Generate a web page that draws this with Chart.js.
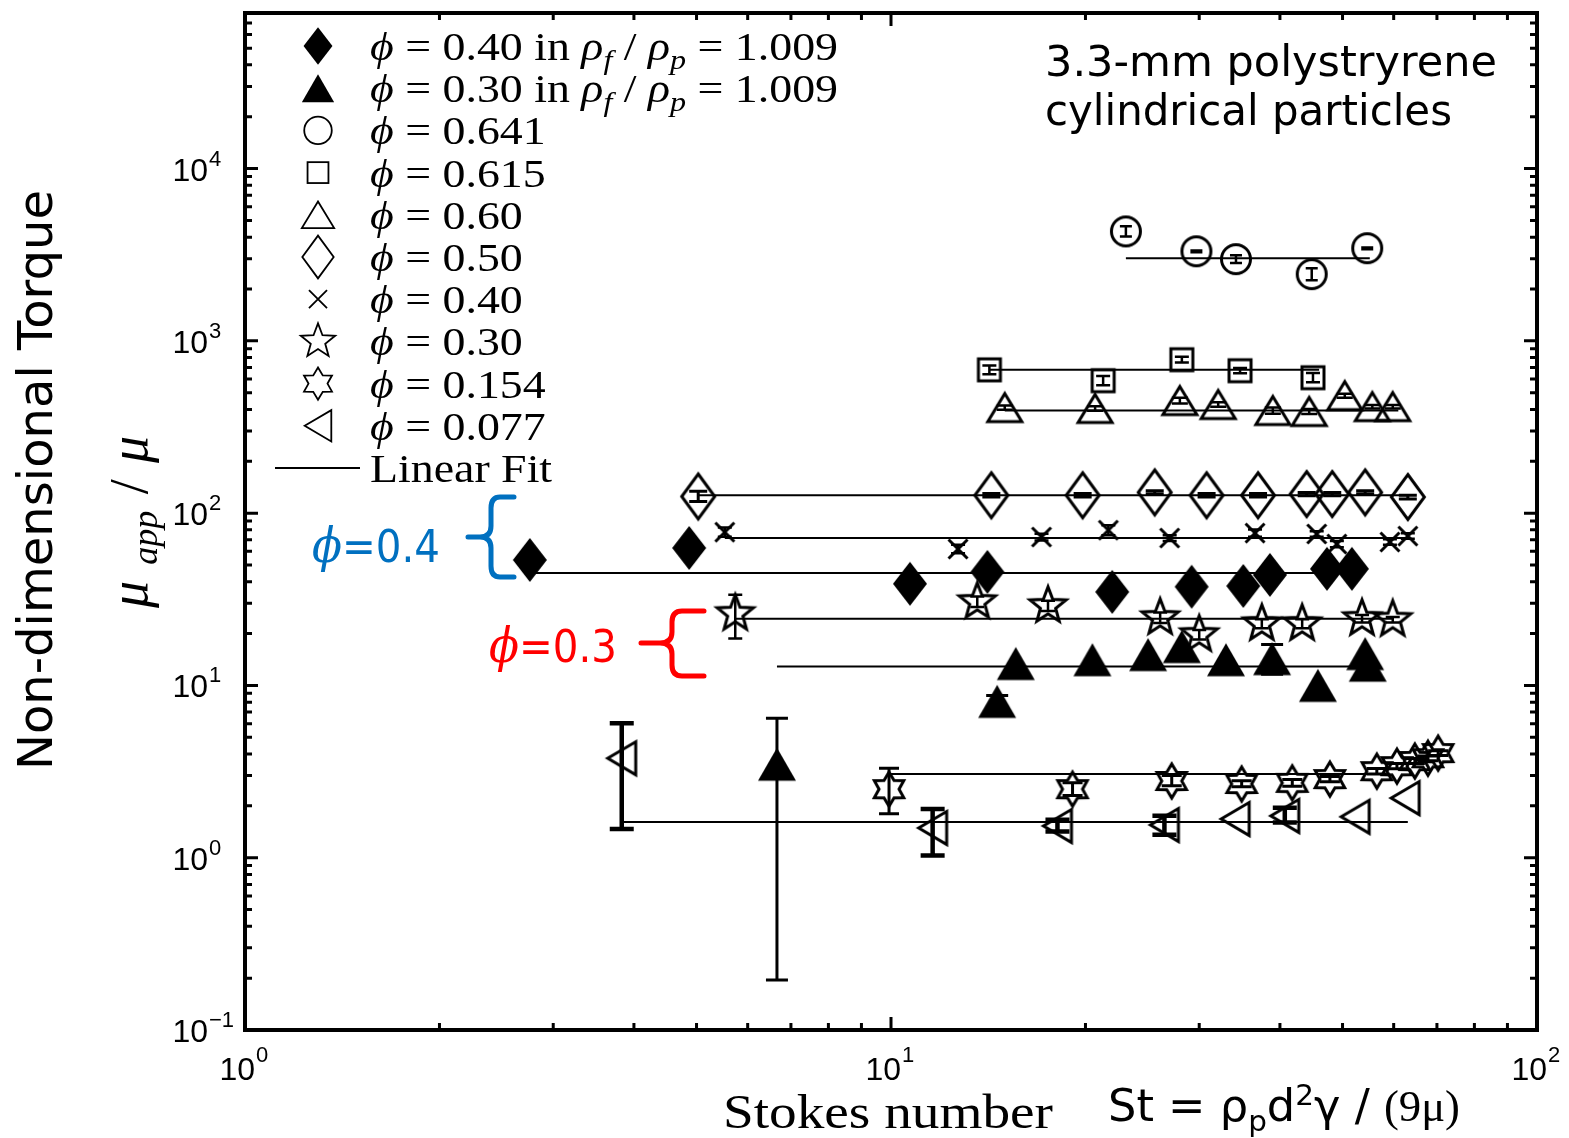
<!DOCTYPE html>
<html>
<head>
<meta charset="utf-8">
<title>Non-dimensional torque vs Stokes number</title>
<script src="https://cdn.jsdelivr.net/npm/chart.js@4.4.0/dist/chart.umd.min.js"></script>
<style>
  html, body { margin: 0; padding: 0; background: #fff; }
  #wrap { width: 1569px; height: 1138px; }
</style>
</head>
<body>
<div id="wrap"><canvas id="myChart" width="1569" height="1138"></canvas></div>
<script>
'use strict';

// Axis limits

let xMin = 1;
let xMax = 100;
let yMin = 0.1;
let yMax = 80000;
let xExponents = [0, 1, 2];
let yExponents = [-1, 0, 1, 2, 3, 4];

// Data

// phi = 0.40 in rho_f/rho_p = 1.009  (filled diamond)
let fdX = [2.76, 4.87, 10.7, 14.1, 22.0, 29.2, 35.1, 38.6, 47.3, 51.7];
let fdY = [53.5, 62.8, 38.9, 45.6, 34.9, 37.4, 37.8, 43.8, 47.5, 47.5];

// phi = 0.30 in rho_f/rho_p = 1.009  (filled triangle)
let ftX = [6.66, 14.6, 15.6, 20.5, 25.0, 28.2, 33.0, 38.9, 45.8, 54.2, 54.7];
let ftY = [3.49, 8.08, 13.4, 14.1, 15.1, 16.8, 14.1, 14.3, 10.0, 15.3, 13.1];
let ftLo = [0.195, 7.45, null, null, null, null, null, 11.6, null, null, null];
let ftHi = [6.45, 8.75, null, null, null, null, null, 17.3, null, null, null];

// phi = 0.641  (circle)
let circX = [23.1, 29.7, 34.2, 44.8, 54.6];
let circY = [4320, 3310, 2980, 2440, 3450];
let circLo = [4040, 3270, 2830, 2250, 3400];
let circHi = [4620, 3350, 3140, 2640, 3480];

// phi = 0.615  (square)
let sqX = [14.2, 21.3, 28.2, 34.7, 45.0];
let sqY = [679, 587, 777, 671, 611];
let sqLo = [640, 552, 748, 648, 575];
let sqHi = [720, 625, 808, 696, 650];

// phi = 0.60  (open triangle)
let triX = [15.0, 20.7, 28.0, 32.1, 39.0, 44.4, 50.4, 55.6, 59.8];
let triY = [410, 405, 450, 427, 394, 389, 481, 415, 415];
let triLo = [398, 393, 433, 414, 378, 376, 468, 405, 405];
let triHi = [422, 417, 467, 440, 410, 402, 494, 425, 425];

// phi = 0.50  (open diamond)
let diaX = [5.03, 14.3, 19.8, 25.6, 30.8, 37.0, 44.0, 48.2, 54.2, 63.1];
let diaY = [125, 127, 127, 132, 127, 127, 129, 129, 132, 124];
let diaLo = [117, 124, 124, 129, 124, 124, 126, 126, 129, 121];
let diaHi = [134, 130, 130, 135, 130, 130, 132, 132, 135, 127];

// phi = 0.40  (x)
let xsX = [5.53, 12.7, 17.1, 21.7, 27.0, 36.6, 45.6, 49.0, 59.2, 63.1];
let xsY = [77.6, 61.9, 72.7, 79.7, 71.7, 76.6, 75.7, 66.2, 68.0, 73.6];
let xsLo = [73.0, 58.5, 69.5, 74.5, 69.0, 73.0, 73.0, 63.5, 65.5, 71.0];
let xsHi = [82.5, 65.5, 76.0, 85.0, 74.5, 80.5, 78.5, 69.0, 70.5, 76.5];

// phi = 0.30  (five-point star)
let st5X = [5.74, 13.6, 17.5, 26.1, 30.0, 37.5, 43.3, 53.6, 59.8];
let st5Y = [26.1, 30.6, 29.0, 24.7, 19.7, 22.8, 22.8, 24.4, 24.1];
let st5Lo = [18.7, 28.5, 27.0, 23.0, 18.5, 21.5, 21.5, 23.2, 23.2];
let st5Hi = [33.6, 32.8, 31.0, 26.5, 21.0, 24.2, 24.2, 25.6, 25.0];

// phi = 0.154  (six-point star)
let st6X = [9.93, 19.1, 27.2, 34.9, 41.8, 47.8, 56.5, 60.7, 64.7, 67.8, 70.3];
let st6Y = [2.50, 2.50, 2.79, 2.68, 2.72, 2.86, 3.18, 3.40, 3.64, 3.78, 4.05];
let st6Lo = [1.80, 2.30, 2.62, 2.58, 2.60, 2.76, 3.06, 3.28, 3.52, 3.66, 3.92];
let st6Hi = [3.31, 2.72, 3.00, 2.80, 2.84, 2.96, 3.30, 3.52, 3.76, 3.90, 4.18];

// phi = 0.077  (left triangle)
let ltX = [3.83, 11.6, 18.1, 26.5, 34.1, 40.7, 52.3, 62.5];
let ltY = [3.78, 1.49, 1.53, 1.55, 1.68, 1.75, 1.73, 2.22];
let ltLo = [1.47, 1.03, 1.42, 1.36, null, 1.60, null, null];
let ltHi = [6.03, 1.92, 1.66, 1.75, null, 1.95, null, null];

// Linear fits (order: circle, square, triangle, diamond, x, filled diamond,
// star, filled triangle, hexagram, left triangle)
let fitStart = [23.1, 14.2, 15.0, 5.03, 5.53, 2.76, 5.74, 6.66, 9.93, 3.83];
let fitEnd = [55.1, 46.0, 61.0, 63.1, 63.1, 46.1, 60.0, 53.2, 56.1, 63.1];
let fitLevel = [3020, 679, 394, 127, 71.7, 45.0, 24.4, 12.9, 3.06, 1.61];

// Legend labels

let legendLabels = [
  [['ϕ', 'i'], [' = 0.40 in ', 'r'], ['ρ', 'i'], ['f', 's', 9], [' / ', 'r'], ['ρ', 'i'], ['p', 's', 9], [' = 1.009', 'r']],
  [['ϕ', 'i'], [' = 0.30 in ', 'r'], ['ρ', 'i'], ['f', 's', 9], [' / ', 'r'], ['ρ', 'i'], ['p', 's', 9], [' = 1.009', 'r']],
  [['ϕ', 'i'], [' = 0.641', 'r']],
  [['ϕ', 'i'], [' = 0.615', 'r']],
  [['ϕ', 'i'], [' = 0.60', 'r']],
  [['ϕ', 'i'], [' = 0.50', 'r']],
  [['ϕ', 'i'], [' = 0.40', 'r']],
  [['ϕ', 'i'], [' = 0.30', 'r']],
  [['ϕ', 'i'], [' = 0.154', 'r']],
  [['ϕ', 'i'], [' = 0.077', 'r']],
  [['Linear Fit', 'r']]
];
let legendShapes = ['fdiamond', 'ftri', 'circle', 'square', 'tri', 'diamond', 'cross', 'star5', 'star6', 'ltri', 'line'];

// Marker shapes

function diamondPath(g, cx, cy, w, h) {
  g.beginPath();
  g.moveTo(cx, cy - h / 2);
  g.lineTo(cx + w / 2, cy);
  g.lineTo(cx, cy + h / 2);
  g.lineTo(cx - w / 2, cy);
  g.closePath();
}

function triUpPath(g, cx, cy, w, h) {
  g.beginPath();
  g.moveTo(cx, cy - h / 2);
  g.lineTo(cx + w / 2, cy + h / 2);
  g.lineTo(cx - w / 2, cy + h / 2);
  g.closePath();
}

function triLeftPath(g, cx, cy, w, h) {
  g.beginPath();
  g.moveTo(cx - w / 2, cy);
  g.lineTo(cx + w / 2, cy - h / 2);
  g.lineTo(cx + w / 2, cy + h / 2);
  g.closePath();
}

function starPath(g, cx, cy, n, r1, r2) {
  g.beginPath();
  for (let i = 0; i < 2 * n; i++) {
    let a = -Math.PI / 2 + i * Math.PI / n;
    let r = i % 2 ? r2 : r1;
    if (i === 0) g.moveTo(cx + r * Math.cos(a), cy + r * Math.sin(a));
    else g.lineTo(cx + r * Math.cos(a), cy + r * Math.sin(a));
  }
  g.closePath();
}

function crossPath(g, cx, cy, s) {
  g.beginPath();
  g.moveTo(cx - s, cy - s);
  g.lineTo(cx + s, cy + s);
  g.moveTo(cx + s, cy - s);
  g.lineTo(cx - s, cy + s);
}

// draws one shape; big = plot marker, otherwise legend marker
function drawShape(g, name, cx, cy, big) {
  g.lineWidth = big ? 3 : 1.8;
  g.lineJoin = 'miter';
  g.strokeStyle = '#000';
  g.fillStyle = '#000';
  let k = big ? 1 : 0.85;
  let ko = big ? 1 : 0.95;
  if (name === 'fdiamond') { diamondPath(g, cx, cy, 34 * k, 44 * k); g.fill(); }
  if (name === 'ftri') { triUpPath(g, cx, cy, 38 * k, 33 * k); g.fill(); }
  if (name === 'circle') { g.beginPath(); g.arc(cx, cy, 14.5 * ko, 0, 2 * Math.PI); g.stroke(); }
  if (name === 'square') { g.strokeRect(cx - 11 * ko, cy - 11 * ko, 22 * ko, 22 * ko); }
  if (name === 'tri') { triUpPath(g, cx, cy, 34 * ko, 28 * ko); g.stroke(); }
  if (name === 'diamond') { diamondPath(g, cx, cy, 33 * ko, 45 * ko); g.stroke(); }
  if (name === 'cross') { crossPath(g, cx, cy, 9.5 * ko); g.stroke(); }
  if (name === 'star5') { starPath(g, cx, cy, 5, 19 * ko, 8 * ko); g.stroke(); }
  if (name === 'star6') { starPath(g, cx, cy, 6, 17 * ko, 10 * ko); g.stroke(); }
  if (name === 'ltri') { triLeftPath(g, cx, cy, 28 * ko, 33 * ko); g.stroke(); }
}

function makeMarker(name) {
  let c = document.createElement('canvas');
  c.width = 60;
  c.height = 60;
  drawShape(c.getContext('2d'), name, 30, 30, true);
  return c;
}

// Datasets

function pointsOf(xs, ys) {
  return xs.map((v, i) => ({ x: v, y: ys[i] }));
}

function series(label, xs, ys, shape, lo, hi, errWidth, errCap) {
  return {
    label: label,
    data: pointsOf(xs, ys),
    pointStyle: makeMarker(shape),
    pointRadius: 12,
    pointHoverRadius: 12,
    showLine: false,
    order: 0,
    errLo: lo,
    errHi: hi,
    errWidth: errWidth,
    errCap: errCap
  };
}

let datasets = [
  series('phi = 0.40 in 1.009', fdX, fdY, 'fdiamond'),
  series('phi = 0.30 in 1.009', ftX, ftY, 'ftri', ftLo, ftHi, 3, 22),
  series('phi = 0.641', circX, circY, 'circle', circLo, circHi, 2.5, 12),
  series('phi = 0.615', sqX, sqY, 'square', sqLo, sqHi, 2.5, 14),
  series('phi = 0.60', triX, triY, 'tri', triLo, triHi, 2.5, 16),
  series('phi = 0.50', diaX, diaY, 'diamond', diaLo, diaHi, 3, 18),
  series('phi = 0.40', xsX, xsY, 'cross', xsLo, xsHi, 2.5, 14),
  series('phi = 0.30', st5X, st5Y, 'star5', st5Lo, st5Hi, 2.5, 14),
  series('phi = 0.154', st6X, st6Y, 'star6', st6Lo, st6Hi, 3, 20),
  series('phi = 0.077', ltX, ltY, 'ltri', ltLo, ltHi, 4.5, 24)
];

for (let i = 0; i < fitLevel.length; i++) {
  datasets.push({
    label: 'Linear Fit ' + i,
    type: 'line',
    data: [{ x: fitStart[i], y: fitLevel[i] }, { x: fitEnd[i], y: fitLevel[i] }],
    borderColor: '#000',
    borderWidth: 2,
    pointRadius: 0,
    showLine: true,
    fill: false,
    order: 1
  });
}

// Plugins

const errorBarPlugin = {
  id: 'errorBars',
  afterDatasetsDraw(chart) {
    const { ctx, scales } = chart;
    chart.data.datasets.forEach((ds) => {
      if (!ds.errLo) return;
      ctx.save();
      ctx.strokeStyle = '#000';
      ctx.lineWidth = ds.errWidth;
      ds.data.forEach((p, j) => {
        let lo = ds.errLo[j];
        let hi = ds.errHi[j];
        if (lo == null || hi == null) return;
        let px = scales.x.getPixelForValue(p.x);
        let yl = scales.y.getPixelForValue(lo);
        let yh = scales.y.getPixelForValue(hi);
        let c = ds.errCap / 2;
        ctx.beginPath();
        ctx.moveTo(px, yl); ctx.lineTo(px, yh);
        ctx.moveTo(px - c, yl); ctx.lineTo(px + c, yl);
        ctx.moveTo(px - c, yh); ctx.lineTo(px + c, yh);
        ctx.stroke();
      });
      ctx.restore();
    });
  }
};

function textWidth(ctx, segs, fonts) {
  let w = 0;
  for (const s of segs) {
    ctx.font = fonts[s[1]];
    w += ctx.measureText(s[0]).width;
  }
  return w;
}

function drawRich(ctx, segs, fonts, x, y, targetW, align) {
  let w = textWidth(ctx, segs, fonts);
  let k = targetW ? targetW / w : 1;
  ctx.save();
  ctx.textAlign = 'left';
  ctx.textBaseline = 'alphabetic';
  ctx.translate(x, y);
  ctx.scale(k, 1);
  let cx = align === 'center' ? -w / 2 : 0;
  for (const s of segs) {
    ctx.font = fonts[s[1]];
    ctx.fillText(s[0], cx, s[2] || 0);
    cx += ctx.measureText(s[0]).width;
  }
  ctx.restore();
}

// like drawRich, but widens by adding gaps between segments instead of stretching
function drawSpread(ctx, segs, fonts, x, y, targetW) {
  let w = textWidth(ctx, segs, fonts);
  let gap = Math.max(0, (targetW - w) / (segs.length - 1));
  ctx.save();
  ctx.textAlign = 'left';
  ctx.textBaseline = 'alphabetic';
  ctx.translate(x, y);
  let cx = -(w + gap * (segs.length - 1)) / 2;
  for (const s of segs) {
    ctx.font = fonts[s[1]];
    ctx.fillText(s[0], cx, s[2] || 0);
    cx += ctx.measureText(s[0]).width + gap;
  }
  ctx.restore();
}

const serifFonts = {
  r: '40px "Liberation Serif", "DejaVu Serif", serif',
  i: 'italic 40px "Liberation Serif", "DejaVu Serif", serif',
  s: 'italic 28px "Liberation Serif", "DejaVu Serif", serif'
};

const axesPlugin = {
  id: 'axesBox',
  afterDraw(chart) {
    const { ctx, chartArea: a, scales } = chart;
    const sx = scales.x;
    const sy = scales.y;
    ctx.save();
    ctx.strokeStyle = '#000';
    ctx.lineCap = 'butt';

    // inward ticks on all four sides
    ctx.lineWidth = 3;
    ctx.beginPath();
    for (let d = 0; d < 2; d++) {
      for (let m = 1; m <= 9; m++) {
        let v = m * Math.pow(10, d);
        if (v <= xMin || v >= xMax) continue;
        let px = sx.getPixelForValue(v);
        let len = m === 1 ? 13 : 7;
        ctx.moveTo(px, a.bottom); ctx.lineTo(px, a.bottom - len);
        ctx.moveTo(px, a.top); ctx.lineTo(px, a.top + len);
      }
    }
    for (let d = -1; d < 5; d++) {
      for (let m = 1; m <= 9; m++) {
        let v = m * Math.pow(10, d);
        if (v <= yMin || v >= yMax) continue;
        let py = sy.getPixelForValue(v);
        let len = m === 1 ? 13 : 7;
        ctx.moveTo(a.left, py); ctx.lineTo(a.left + len, py);
        ctx.moveTo(a.right, py); ctx.lineTo(a.right - len, py);
      }
    }
    ctx.stroke();

    ctx.lineWidth = 4;
    ctx.strokeRect(a.left, a.top, a.right - a.left, a.bottom - a.top);

    // tick labels
    ctx.fillStyle = '#000';
    ctx.textBaseline = 'alphabetic';
    for (const e of yExponents) {
      let py = sy.getPixelForValue(Math.pow(10, e));
      ctx.font = '32px "Liberation Sans", Arial, sans-serif';
      ctx.textAlign = 'right';
      ctx.fillText('10', 208, py + 12);
      ctx.font = '22px "Liberation Sans", Arial, sans-serif';
      ctx.textAlign = 'left';
      ctx.fillText(e < 0 ? '\u2212' + (-e) : String(e), 209, py - 3);
    }
    for (const e of xExponents) {
      let px = sx.getPixelForValue(Math.pow(10, e));
      ctx.font = '32px "Liberation Sans", Arial, sans-serif';
      ctx.textAlign = 'right';
      ctx.fillText('10', px + 10, 1080);
      ctx.font = '22px "Liberation Sans", Arial, sans-serif';
      ctx.textAlign = 'left';
      ctx.fillText(String(e), px + 11, 1062);
    }
    ctx.restore();
  }
};

const annotationPlugin = {
  id: 'annotations',
  afterDraw(chart) {
    const ctx = chart.ctx;
    ctx.save();
    ctx.fillStyle = '#000';

    // legend
    let k = 468 / textWidth(ctx, legendLabels[0], serifFonts);
    legendLabels.forEach((segs, i) => {
      let yc = 46 + i * 42.2;
      let shape = legendShapes[i];
      if (shape === 'line') {
        ctx.strokeStyle = '#000';
        ctx.lineWidth = 2;
        ctx.beginPath(); ctx.moveTo(275, yc); ctx.lineTo(360, yc); ctx.stroke();
      } else {
        drawShape(ctx, shape, 318, yc, false);
      }
      let w = textWidth(ctx, segs, serifFonts);
      drawRich(ctx, segs, serifFonts, 370, yc + 14, w * k);
    });

    // axis titles
    drawRich(ctx, [['Stokes number', 'r']], { r: '48px "Liberation Serif", serif' }, 888, 1128, 330, 'center');

    const stFonts = {
      a: '44px "DejaVu Sans", sans-serif',
      b: '29px "DejaVu Sans", sans-serif',
      r: '44px "Liberation Serif", serif'
    };
    drawRich(ctx, [['St = ρ', 'a'], ['p', 'b', 10], ['d', 'a'], ['2', 'b', -16], ['γ / ', 'a'], ['(9μ)', 'r']],
      stFonts, 1108, 1121, 352);

    ctx.save();
    ctx.translate(52, 480);
    ctx.rotate(-Math.PI / 2);
    drawRich(ctx, [['Non-dimensional Torque', 'a']], { a: '48px "DejaVu Sans", sans-serif' }, 0, 0, 580, 'center');
    ctx.restore();

    ctx.save();
    ctx.translate(147, 522);
    ctx.rotate(-Math.PI / 2);
    drawSpread(ctx, [['μ', 'i'], ['app', 's', 10], ['/', 'r'], ['μ', 'i']],
      { i: 'italic 54px "Liberation Serif", serif', s: 'italic 36px "Liberation Serif", serif', r: '54px "Liberation Serif", serif' },
      0, 0, 172);
    ctx.restore();

    // particle note
    const noteFont = { a: '42px "DejaVu Sans", sans-serif' };
    drawRich(ctx, [['3.3-mm polystryrene', 'a']], noteFont, 1045, 76, 452);
    drawRich(ctx, [['cylindrical particles', 'a']], noteFont, 1045, 125, 407);

    // phi = 0.4 (blue) and phi = 0.3 (red) brackets
    const phiFonts = {
      i: 'italic 48px "DejaVu Serif", serif',
      a: '44px "DejaVu Sans", sans-serif'
    };
    ctx.fillStyle = '#0070C0';
    drawRich(ctx, [['ϕ', 'i'], ['=0.4', 'a']], phiFonts, 312, 562, 128);
    ctx.fillStyle = '#FF0000';
    drawRich(ctx, [['ϕ', 'i'], ['=0.3', 'a']], phiFonts, 489, 662, 128);

    ctx.lineWidth = 5;
    ctx.lineCap = 'round';
    ctx.strokeStyle = '#0070C0';
    ctx.beginPath();
    ctx.moveTo(514, 497);
    ctx.lineTo(500, 497);
    ctx.quadraticCurveTo(491, 497, 491, 508);
    ctx.lineTo(491, 526);
    ctx.quadraticCurveTo(491, 537, 480, 537);
    ctx.lineTo(468, 537);
    ctx.moveTo(480, 537);
    ctx.quadraticCurveTo(491, 537, 491, 548);
    ctx.lineTo(491, 566);
    ctx.quadraticCurveTo(491, 577, 500, 577);
    ctx.lineTo(514, 577);
    ctx.stroke();

    ctx.strokeStyle = '#FF0000';
    ctx.beginPath();
    ctx.moveTo(704, 611);
    ctx.lineTo(682, 611);
    ctx.quadraticCurveTo(672, 611, 672, 622);
    ctx.lineTo(672, 632);
    ctx.quadraticCurveTo(672, 643, 660, 643);
    ctx.lineTo(641, 643);
    ctx.moveTo(660, 643);
    ctx.quadraticCurveTo(672, 643, 672, 654);
    ctx.lineTo(672, 665);
    ctx.quadraticCurveTo(672, 676, 682, 676);
    ctx.lineTo(704, 676);
    ctx.stroke();

    ctx.restore();
  }
};

// Chart

const ctx = document.getElementById('myChart').getContext('2d');
const myChart = new Chart(ctx, {
  type: 'scatter',
  data: { datasets: datasets },
  options: {
    responsive: false,
    animation: false,
    devicePixelRatio: 1,
    layout: { padding: { top: 9, right: 32, left: 0, bottom: 0 } },
    plugins: {
      legend: { display: false },
      tooltip: { enabled: false },
      title: { display: false }
    },
    scales: {
      x: {
        type: 'logarithmic',
        min: xMin,
        max: xMax,
        ticks: { display: false },
        grid: { display: false },
        border: { display: false },
        afterFit(scale) { scale.height = 108; }
      },
      y: {
        type: 'logarithmic',
        min: yMin,
        max: yMax,
        ticks: { display: false },
        grid: { display: false },
        border: { display: false },
        afterFit(scale) { scale.width = 245; }
      }
    }
  },
  plugins: [errorBarPlugin, axesPlugin, annotationPlugin]
});
</script>
</body>
</html>
